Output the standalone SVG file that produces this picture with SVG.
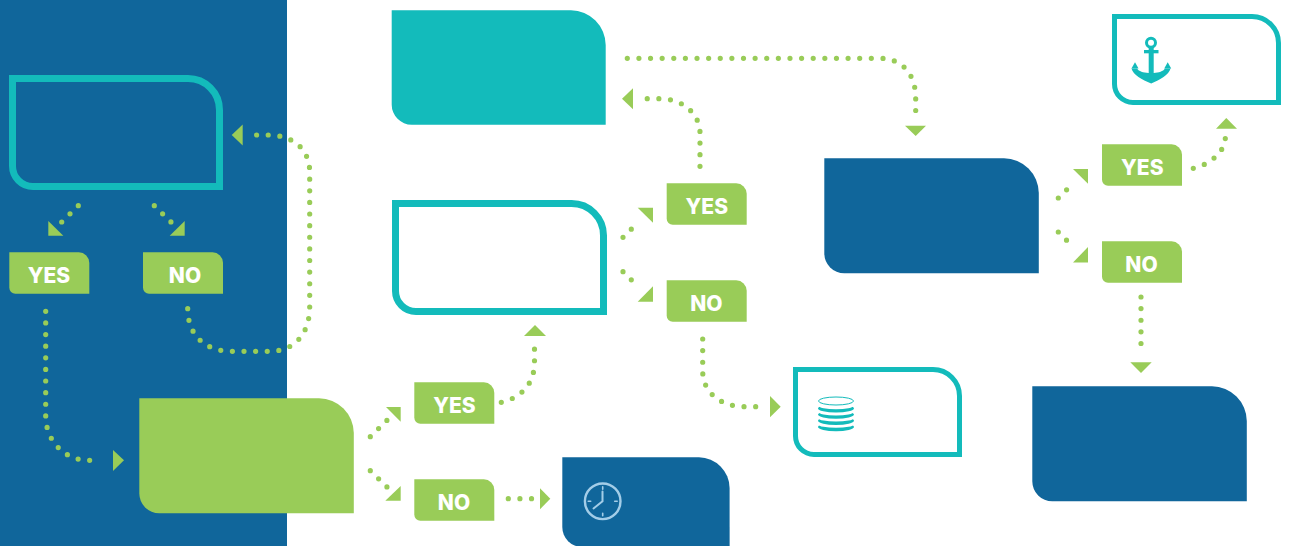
<svg xmlns="http://www.w3.org/2000/svg" width="1289" height="546" viewBox="0 0 1289 546">
<style>
.dots{fill:none;stroke:#99cc58;stroke-width:5.200;stroke-linecap:round;stroke-dasharray:0 11.62}
.head{fill:#99cc58}
.lab{fill:#99cc58}
.t{font-family:"Inter","Liberation Sans",sans-serif;font-weight:800;font-size:21px;fill:#fff;text-anchor:middle}
.teal{fill:#13bbbb}
.blue{fill:#10669b}
.green{fill:#99cc58}
.out{fill:none;stroke:#13bbbb}
.clk{fill:none;stroke:#a3cde8;stroke-linecap:round}
</style>
<defs>
<path id="lb" class="lab" d="M0 0H69.500A10.500 10.500 0 0 1 80 10.500V41.500H6A6 6 0 0 1 0 35.500Z"/>
</defs>
<rect id="panel" x="0" y="0" width="287" height="546" fill="#10669b"/>
<g id="connectors">
<path class="dots" d="M78.300 205.700L61.700 222"/>
<polygon class="head" points="48.300,221 48.300,235.800 63.300,235.800"/>
<path class="dots" d="M154.300 205.700L171 222"/>
<polygon class="head" points="184.700,221 184.700,235.800 169.700,235.800"/>
<path class="dots" d="M45.700 311.300V416C45.700 442 66 460.300 88 460.300H100.500"/>
<polygon class="head" points="113,450 124,460.300 113,471"/>
<path class="dots" d="M187.700 308.700C187.700 334 204 351.300 232 351.300H270C294 351.300 309.700 334 309.700 307V172C309.700 150 294 135 268 135H255.300"/>
<polygon class="head" points="242.700,124.500 231.700,135 242.700,145.500"/>
<path class="dots" d="M370.300 436.700L387 420.300"/>
<polygon class="head" points="386,407 400.700,407 400.700,421.700"/>
<path class="dots" d="M370.300 470.700L387 487"/>
<polygon class="head" points="400.700,486 400.700,500.700 385.300,500.700"/>
<path class="dots" d="M501.300 402.300C520 398 534.500 385 534.500 362V348"/>
<polygon class="head" points="524,336 535,325 546,336"/>
<path class="dots" d="M508.300 498.700H532"/>
<polygon class="head" points="540,488.300 550.300,498.700 540,509.300"/>
<path class="dots" d="M623 237.300L639.300 221.300"/>
<polygon class="head" points="637.700,207.700 653,207.700 653,222.700"/>
<path class="dots" d="M623 271.700L639.300 287.700"/>
<polygon class="head" points="653,286.300 653,301.700 637.700,301.700"/>
<path class="dots" d="M700 166.300V133C700 115 684 98.700 660 98.700H645.700"/>
<polygon class="head" points="633,88.300 622,98.700 633,109.300"/>
<path class="dots" d="M627.300 58.300H880C902 58.300 915.700 74 915.700 98V112.500"/>
<polygon class="head" points="905,125.700 926,125.700 915.700,136"/>
<path class="dots" d="M702.700 339V371C702.700 392 720 406.700 745 406.700H757"/>
<polygon class="head" points="770,396 780.700,406.700 770,417.300"/>
<path class="dots" d="M1058.300 198L1074.300 182.300"/>
<polygon class="head" points="1073,169 1088,169 1088,183.700"/>
<path class="dots" d="M1058.300 232L1074.300 248"/>
<polygon class="head" points="1088,247 1088,262.500 1073,262.500"/>
<path class="dots" d="M1193.300 168.300C1212 164 1225.300 150 1225.300 138"/>
<polygon class="head" points="1216,128.700 1226.300,118 1237,128.700"/>
<path class="dots" d="M1141 297V355"/>
<polygon class="head" points="1130.300,362.300 1151.700,362.300 1141,373"/>
</g>
<g id="node-a"><path class="out" stroke-width="7" d="M12.500 78.500H188A31.500 31.500 0 0 1 219.500 110V186.500H33A20.500 20.500 0 0 1 12.500 166Z"/></g>
<g id="node-b"><path class="teal" d="M391.700 10.300H571A35 35 0 0 1 605.700 45V124.700H411.700A20 20 0 0 1 391.700 104.700Z"/></g>
<g id="node-c"><path class="out" stroke-width="7" d="M395.500 203.500H571A32 32 0 0 1 603.500 236V311.500H416A20.500 20.500 0 0 1 395.500 291Z"/></g>
<g id="node-d"><path class="blue" d="M824.300 158.300H1004A35 35 0 0 1 1038.800 193V273.300H844.300A20 20 0 0 1 824.300 253.300Z"/></g>
<g id="node-e"><path class="blue" d="M1032.300 386.300H1212A35 35 0 0 1 1246.800 421V501.300H1052.300A20 20 0 0 1 1032.300 481.300Z"/></g>
<g id="node-f"><path class="green" d="M139.300 398.300H319A35 35 0 0 1 353.800 433V513.300H159.300A20 20 0 0 1 139.300 493.300Z"/></g>
<g id="node-clock">
<path class="blue" d="M562.300 457.300H699A31 31 0 0 1 729.600 488V547H582.300A20 20 0 0 1 562.300 527Z"/>
<circle class="clk" stroke-width="2.400" cx="602.700" cy="501.300" r="17.800"/>
<path class="clk" stroke-width="1.600" d="M602.700 486.800V489.300M602.700 513.300V515.800M588.200 501.300H590.700M614.700 501.300H617.200"/>
<path class="clk" stroke-width="2" d="M602.500 491.500V501.300L593.500 508.500"/>
</g>
<g id="node-db">
<path class="out" stroke-width="5" d="M795.500 369.500H933A26.500 26.500 0 0 1 959.500 396V454.500H814A18.500 18.500 0 0 1 795.500 436Z"/>
<g>
<ellipse class="teal" cx="836" cy="427" rx="18" ry="4.200"/><ellipse cx="836" cy="424.400" rx="17.600" ry="3.400" fill="#fff"/>
<ellipse class="teal" cx="836" cy="420.800" rx="18" ry="4.200"/><ellipse cx="836" cy="418.200" rx="17.600" ry="3.400" fill="#fff"/>
<ellipse class="teal" cx="836" cy="414.600" rx="18" ry="4.200"/><ellipse cx="836" cy="412" rx="17.600" ry="3.400" fill="#fff"/>
<ellipse class="teal" cx="836" cy="408.400" rx="18" ry="4.200"/><ellipse cx="836" cy="405.800" rx="17.600" ry="3.400" fill="#fff"/>
<ellipse cx="836" cy="401" rx="17.500" ry="4" fill="#fff" stroke="#13bbbb" stroke-width="1"/>
</g>
</g>
<g id="node-anchor">
<path class="out" stroke-width="5" d="M1114.500 16.500H1252A26.500 26.500 0 0 1 1278.500 43V102.500H1133A18.500 18.500 0 0 1 1114.500 84Z"/>
<circle cx="1151" cy="42.700" r="4.500" fill="none" stroke="#13bbbb" stroke-width="3"/>
<rect class="teal" x="1144" y="50" width="14.500" height="3.300"/>
<path class="teal" d="M1148.700 47H1153.700V73C1159 72.500 1163 71.500 1165 68.500H1170.500C1169 75 1160 79.500 1151.200 83.500C1142 79.500 1133 75 1131.500 68.500H1137C1139 71.500 1143 72.500 1148.700 73Z"/>
<polygon class="teal" points="1131.500,68.500 1135,62.300 1138.500,68.500"/>
<polygon class="teal" points="1164.200,68.500 1167.700,62.300 1171.200,68.500"/>
</g>
<g id="lab-yes-1"><use href="#lb" x="9.300" y="252.300"/><text class="t" x="49" y="282.700">YES</text></g>
<g id="lab-no-1"><use href="#lb" x="143" y="252.300"/><text class="t" x="185" y="282.700">NO</text></g>
<g id="lab-yes-2"><use href="#lb" x="414.300" y="382.300"/><text class="t" x="454.500" y="412.700">YES</text></g>
<g id="lab-no-2"><use href="#lb" x="414.300" y="479.300"/><text class="t" x="454" y="509.700">NO</text></g>
<g id="lab-yes-3"><use href="#lb" x="666.700" y="183.300"/><text class="t" x="706.800" y="213.700">YES</text></g>
<g id="lab-no-3"><use href="#lb" x="666.700" y="280.300"/><text class="t" x="706.300" y="310.700">NO</text></g>
<g id="lab-yes-4"><use href="#lb" x="1102" y="144.300"/><text class="t" x="1142.300" y="174.700">YES</text></g>
<g id="lab-no-4"><use href="#lb" x="1102" y="241.300"/><text class="t" x="1141.500" y="271.700">NO</text></g>
</svg>
